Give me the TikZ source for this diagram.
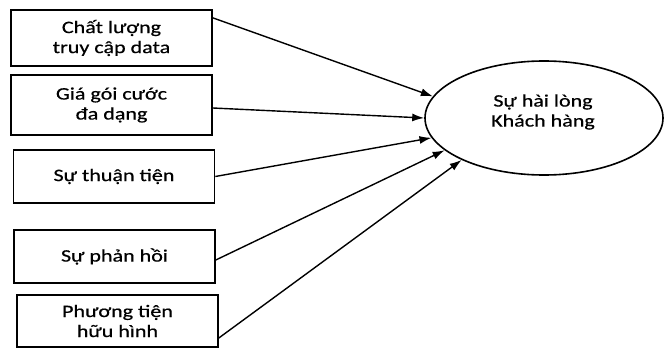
\documentclass[tikz,border=0pt]{standalone}
\usepackage{fontspec}
\setmainfont{Carlito}[FakeStretch=1.26,FakeBold=0.6]
\usetikzlibrary{arrows.meta,shapes.geometric,calc}
\begin{document}
\begin{tikzpicture}[x=1pt,y=-1pt,
  box/.style={draw,line width=1.6pt,minimum width=201pt,inner sep=0pt,align=center,font=\fontsize{17.5}{20}\selectfont},
  oval/.style={draw,ellipse,line width=1.6pt,minimum width=238pt,minimum height=114pt,inner sep=0pt},
  lbl/.style={align=center,font=\fontsize{17.5}{20}\selectfont},
  arr/.style={line width=1.4pt,-{Latex[length=12pt,width=8pt]}}]
\useasboundingbox (0,0) rectangle (664,364);
\fill[white] (0,0) rectangle (664,364);
\node[box,minimum height=56pt] (b1) at (111.5,38) {Chất lượng\\truy cập data};
\node[box,minimum height=60pt] (b2) at (111.5,105) {Giá gói cước\\đa dạng};
\node[box,minimum height=53pt] (b3) at (114,176.5) {Sự thuận tiện};
\node[box,minimum height=53pt] (b4) at (114.5,256.5) {Sự phản hồi};
\node[box,minimum height=52pt] (b5) at (117.5,321) {Phương tiện\\hữu hình};
\node[oval] (e) at (544,118) {};
\node[lbl] (et) at (543,112) {Sự hài lòng\\Khách hàng};
\draw[arr] ($(b1.north east)!0.15!(b1.south east)$) -- (e.169.6);
\draw[arr] ([yshift=-3pt]b2.east) -- (e.west);
\draw[arr] (b3.east) -- (e.190.4);
\draw[arr] ([yshift=-3.5pt]b4.east) -- (e.198);
\draw[arr] ([yshift=-17pt]b5.east) -- (e.207);
\end{tikzpicture}
\end{document}
